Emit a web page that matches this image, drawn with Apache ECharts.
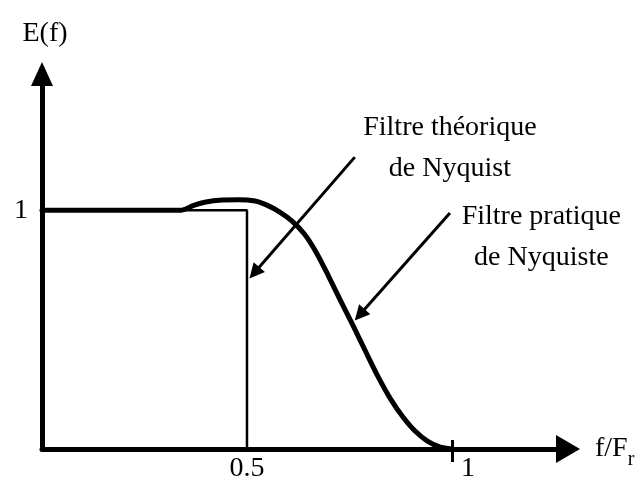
<!DOCTYPE html>
<html>
<head>
<meta charset="utf-8">
<script src="https://cdn.jsdelivr.net/npm/echarts@6/dist/echarts.min.js"></script>
<style>
  html, body { margin: 0; padding: 0; background: #ffffff; }
  #chart { width: 636px; height: 489px; }
</style>
</head>
<body>
<div id="chart"></div>
<script>
// Practical Nyquist filter: normalised frequency f/Fr and response E(f)
const practicalF = [0, 0.1, 0.2, 0.3, 0.34, 0.37, 0.40, 0.44, 0.48, 0.52, 0.55, 0.58, 0.61, 0.64, 0.67, 0.70, 0.73, 0.76, 0.79, 0.82, 0.85, 0.88, 0.91, 0.94, 0.97, 1.0];
const practicalE = [1, 1, 1, 1, 1.0, 1.02, 1.034, 1.042, 1.044, 1.038, 1.02, 0.992, 0.954, 0.90, 0.82, 0.72, 0.615, 0.512, 0.406, 0.302, 0.21, 0.135, 0.075, 0.033, 0.009, 0];

// Theoretical (brick-wall) Nyquist filter
const idealF = [0, 0.5, 0.5];
const idealE = [1, 1, 0];

// Axis ticks and labels
const xTickValues = [0.5, 1];
const xTickLabels = ['0.5', '1'];
const yTickValues = [1];
const yTickLabels = ['1'];

// Callout texts
const annotationTexts = ['Filtre théorique\nde Nyquist', 'Filtre pratique\nde Nyquiste'];

// Callout placement in axis units: text centre, arrow start, arrow head
const annotationLayout = [
  { text: [0.995, 1.258], from: [0.763, 1.222], to: [0.518, 0.738] },
  { text: [1.218, 0.888], from: [0.995, 0.988], to: [0.775, 0.562] }
];

const FONT = 'Liberation Serif';
const X_MAX = 1.283;
const Y_MAX = 1.57;

const chart = echarts.init(document.getElementById('chart'), null, { renderer: 'canvas' });

const axisLineStyle = { color: '#000', width: 5 };

chart.setOption({
  backgroundColor: '#ffffff',
  animation: false,
  grid: { left: 42, right: 68, top: 74, bottom: 40, containLabel: false, outerBoundsMode: 'none' },
  xAxis: [
    {
      type: 'value', min: 0, max: X_MAX,
      axisLine: { show: true, onZero: false, symbol: ['none', 'triangle'], symbolSize: [28, 24], lineStyle: axisLineStyle },
      axisTick: { show: true, customValues: [xTickValues[1]], length: 13, lineStyle: { color: '#000', width: 3 } },
      axisLabel: {
        customValues: xTickValues,
        margin: 6,
        fontFamily: FONT, fontSize: 28, color: '#000',
        formatter: function (v) {
          const i = xTickValues.indexOf(v);
          return i === 1 ? '{shift|' + xTickLabels[i] + '}' : xTickLabels[i];
        },
        rich: { shift: { padding: [0, 0, 0, 32], fontFamily: FONT, fontSize: 28, color: '#000' } }
      },
      splitLine: { show: false },
      name: 'f/F{sub|r}',
      nameLocation: 'end',
      nameGap: 27,
      nameTextStyle: {
        fontFamily: FONT, fontSize: 28, color: '#000',
        rich: { sub: { fontFamily: FONT, fontSize: 20, color: '#000', padding: [22, 0, 0, 0], verticalAlign: 'bottom' } }
      }
    },
    {
      type: 'value', min: 0, max: X_MAX, position: 'bottom',
      axisLine: { show: false },
      axisLabel: { show: false },
      splitLine: { show: false },
      axisTick: { show: true, inside: true, customValues: [xTickValues[1]], length: 9, lineStyle: { color: '#000', width: 3 } }
    }
  ],
  yAxis: {
    type: 'value', min: 0, max: Y_MAX,
    axisLine: { show: true, onZero: false, symbol: ['none', 'triangle'], symbolSize: [22, 24], lineStyle: axisLineStyle },
    axisTick: { show: false },
    axisLabel: {
      customValues: yTickValues,
      margin: 14,
      fontFamily: FONT, fontSize: 28, color: '#000',
      formatter: function (v) { return yTickLabels[yTickValues.indexOf(v)]; }
    },
    splitLine: { show: false },
    name: 'E(f)',
    nameLocation: 'end',
    nameGap: 26,
    nameTextStyle: { fontFamily: FONT, fontSize: 28, color: '#000', padding: [0, 0, 0, 6] }
  },
  series: [
    {
      name: 'Filtre théorique',
      type: 'line',
      data: idealF.map(function (f, i) { return [f, idealE[i]]; }),
      showSymbol: false,
      symbol: 'none',
      lineStyle: { color: '#000', width: 2.5 },
      z: 2
    },
    {
      name: 'Filtre pratique',
      type: 'line',
      data: practicalF.map(function (f, i) { return [f, practicalE[i]]; }),
      smooth: 0.3,
      showSymbol: false,
      symbol: 'none',
      lineStyle: { color: '#000', width: 5, join: 'round', cap: 'round' },
      z: 3,
      markLine: {
        silent: true,
        symbol: ['none', 'triangle'],
        symbolSize: 15,
        lineStyle: { color: '#000', width: 3, type: 'solid' },
        itemStyle: { color: '#000' },
        label: { show: false },
        data: annotationLayout.map(function (a) { return [{ coord: a.from }, { coord: a.to }]; })
      },
      markPoint: {
        silent: true,
        symbol: 'circle',
        symbolSize: 1,
        itemStyle: { color: 'rgba(0,0,0,0)' },
        label: {
          show: true, position: 'inside',
          fontFamily: FONT, fontSize: 28, lineHeight: 41, color: '#000', align: 'center'
        },
        data: annotationLayout.map(function (a, i) {
          return { coord: a.text, value: 0, label: { formatter: annotationTexts[i] } };
        })
      }
    }
  ]
});
</script>
</body>
</html>
